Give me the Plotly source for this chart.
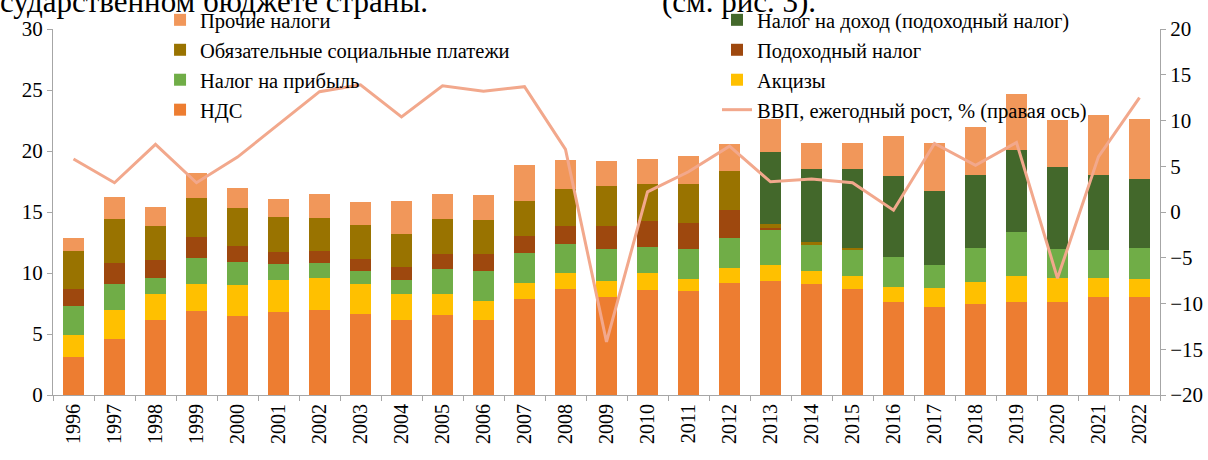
import plotly.graph_objects as go

years = [str(y) for y in range(1996, 2023)]

nds = [3.14, 4.62, 6.18, 6.86, 6.48, 6.78, 6.97, 6.67, 6.18, 6.56, 6.18, 7.84, 8.72, 8.03,
       8.61, 8.52, 9.18, 9.37, 9.10, 8.72, 7.62, 7.24, 7.43, 7.62, 7.62, 8.03, 8.03]
akcizy = [1.78, 2.35, 2.13, 2.24, 2.51, 2.62, 2.62, 2.43, 2.13, 1.75, 1.55, 1.34, 1.25, 1.34,
          1.36, 0.96, 1.26, 1.29, 1.06, 1.06, 1.26, 1.56, 1.83, 2.13, 1.94, 1.53, 1.45]
pribyl = [2.40, 2.13, 1.28, 2.13, 1.94, 1.34, 1.23, 1.06, 1.09, 2.05, 2.43, 2.43, 2.41, 2.62,
          2.14, 2.51, 2.43, 2.86, 2.14, 2.11, 2.43, 1.83, 2.82, 3.59, 2.43, 2.33, 2.60]
podokh = [1.37, 1.75, 1.45, 1.72, 1.26, 0.98, 0.98, 0.99, 1.06, 1.17, 1.37, 1.45, 1.47, 1.86,
          2.13, 2.14, 2.32, 0.19, 0.05, 0.04, 0, 0, 0, 0, 0, 0, 0]
social = [3.11, 3.58, 2.81, 3.22, 3.11, 2.90, 2.74, 2.81, 2.74, 2.90, 2.79, 2.84, 3.01, 3.28,
          3.08, 3.19, 3.20, 0.31, 0.16, 0.11, 0, 0, 0, 0, 0, 0, 0]
dohod = [0, 0, 0, 0, 0, 0, 0, 0, 0, 0, 0, 0, 0, 0,
         0, 0, 0, 5.92, 5.99, 6.47, 6.62, 6.12, 5.93, 6.71, 6.70, 6.12, 5.62]
prochie = [1.04, 1.83, 1.53, 2.05, 1.64, 1.45, 1.94, 1.83, 2.67, 2.05, 2.07, 2.98, 2.40, 2.05,
           2.05, 2.24, 2.16, 2.71, 2.13, 2.13, 3.27, 3.88, 3.96, 4.65, 3.88, 4.94, 4.95]
vvp = [5.8, 3.2, 7.4, 3.2, 6.0, 9.6, 13.15, 13.9, 10.4, 13.8, 13.2, 13.7, 6.85, -14.2,
       2.2, 4.4, 7.2, 3.3, 3.6, 3.2, 0.2, 7.5, 5.1, 7.6, -7.25, 6.05, 12.5]

FONT = "Times New Roman, Liberation Serif, DejaVu Serif, serif"
fig = go.Figure()

bars = [
    ("НДС", nds, "#ED7D31", "legend", 4),
    ("Акцизы", akcizy, "#FFC000", "legend2", 3),
    ("Налог на прибыль", pribyl, "#70AD47", "legend", 3),
    ("Подоходный налог", podokh, "#9E480E", "legend2", 2),
    ("Обязательные социальные платежи", social, "#997300", "legend", 2),
    ("Налог на доход (подоходный налог)", dohod, "#43682B", "legend2", 1),
    ("Прочие налоги", prochie, "#F1975A", "legend", 1),
]
for name, vals, color, leg, rank in bars:
    fig.add_trace(go.Bar(x=years, y=vals, name=name, marker_color=color,
                         marker_line_width=0, legend=leg, legendrank=rank,
                         legendgroup=name))

fig.add_trace(go.Scatter(x=years, y=vvp, name="ВВП, ежегодный рост, % (правая ось)",
                         mode="lines", line=dict(color="#F2A88C", width=3),
                         yaxis="y2", legend="legend2", legendrank=4, legendgroup="vvp"))

axis_line = "#A6A6A6"
fig.update_layout(
    width=1208, height=460,
    margin=dict(l=53, r=48, t=29, b=65, autoexpand=False),
    paper_bgcolor="white", plot_bgcolor="white",
    barmode="stack", bargap=0.51,
    font=dict(family=FONT, size=20, color="black"),
    xaxis=dict(type="category", tickangle=-90, ticks="outside", ticklen=5,
               tickcolor=axis_line, showline=True, linecolor=axis_line,
               tickson="boundaries", showgrid=False, tickfont=dict(size=20)),
    yaxis=dict(range=[0, 30], dtick=5, ticks="outside", ticklen=5, tickcolor=axis_line,
               showline=True, linecolor=axis_line, showgrid=False, zeroline=False,
               tickfont=dict(size=21)),
    yaxis2=dict(range=[-20, 20], dtick=5, ticks="outside", ticklen=5, tickcolor=axis_line,
                showline=True, linecolor=axis_line, showgrid=False, zeroline=False,
                overlaying="y", side="right", tickfont=dict(size=21)),
    legend=dict(x=0.0967, y=1.0065, yref="container", xanchor="left", yanchor="top",
                bgcolor="rgba(0,0,0,0)", traceorder="grouped", tracegroupgap=0.3,
                font=dict(size=20.5), orientation="v"),
    legend2=dict(x=0.5998, y=1.0065, yref="container", xanchor="left", yanchor="top",
                 bgcolor="rgba(0,0,0,0)", traceorder="grouped", tracegroupgap=0.3,
                 font=dict(size=20.5), orientation="v"),
    annotations=[
        dict(text="сударственном бюджете страны.", xref="paper", yref="paper",
             x=-0.05, y=1.0751, xanchor="left", yanchor="middle", showarrow=False,
             font=dict(size=31, family=FONT)),
        dict(text="(см. рис. 3).", xref="paper", yref="paper",
             x=0.5483, y=1.0751, xanchor="left", yanchor="middle", showarrow=False,
             font=dict(size=31, family=FONT)),
    ],
)

fig.write_html("out.html", config={"displayModeBar": False},
               post_script="document.body.style.margin='0px';")
